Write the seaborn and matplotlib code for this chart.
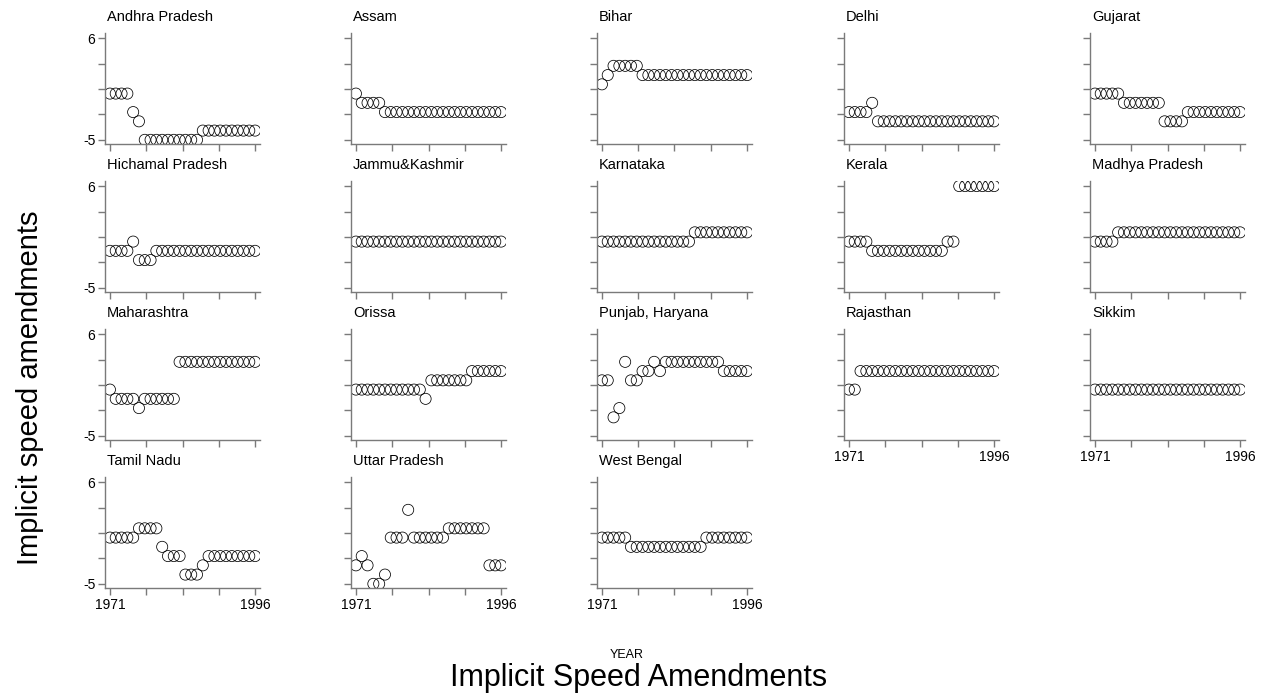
import numpy as np
import pandas as pd
import matplotlib
matplotlib.use("Agg")
import matplotlib.pyplot as plt
import seaborn as sns

sns.set_theme(style="white")
plt.rcParams['font.family'] = ['Liberation Sans', 'DejaVu Sans']
plt.rcParams['text.color'] = 'black'

years = list(range(1971, 1997))

states = ["Andhra Pradesh", "Assam", "Bihar", "Delhi", "Gujarat",
          "Hichamal Pradesh", "Jammu&Kashmir", "Karnataka", "Kerala", "Madhya Pradesh",
          "Maharashtra", "Orissa", "Punjab, Haryana", "Rajasthan", "Sikkim",
          "Tamil Nadu", "Uttar Pradesh", "West Bengal"]

andhra_pradesh = [0, 0, 0, 0, -2, -3] + [-5] * 10 + [-4] * 10
assam = [0] + [-1] * 4 + [-2] * 21
bihar = [1, 2] + [3] * 5 + [2] * 19
delhi = [-2] * 4 + [-1] + [-3] * 21
gujarat = [0] * 5 + [-1] * 7 + [-3] * 4 + [-2] * 10
hichamal_pradesh = [-1] * 4 + [0] + [-2] * 3 + [-1] * 18
jammu_kashmir = [0] * 26
karnataka = [0] * 16 + [1] * 10
kerala = [0] * 4 + [-1] * 13 + [0] * 2 + [6] * 7
madhya_pradesh = [0] * 4 + [1] * 22
maharashtra = [0] + [-1] * 4 + [-2] + [-1] * 6 + [3] * 14
orissa = [0] * 12 + [-1] + [1] * 7 + [2] * 6
punjab_haryana = [1, 1, -3, -2, 3, 1, 1, 2, 2, 3, 2] + [3] * 10 + [2] * 5
rajasthan = [0, 0] + [2] * 24
sikkim = [0] * 26
tamil_nadu = [0] * 5 + [1] * 4 + [-1] + [-2] * 3 + [-4] * 3 + [-3] + [-2] * 9
uttar_pradesh = [-3, -2, -3, -5, -5, -4, 0, 0, 0, 3] + [0] * 6 + [1] * 7 + [-3] * 3
west_bengal = [0] * 5 + [-1] * 13 + [0] * 8

series = [andhra_pradesh, assam, bihar, delhi, gujarat,
          hichamal_pradesh, jammu_kashmir, karnataka, kerala, madhya_pradesh,
          maharashtra, orissa, punjab_haryana, rajasthan, sikkim,
          tamil_nadu, uttar_pradesh, west_bengal]

y_tick_labels = {6: "6", -5: "-5"}
x_tick_labels = {1971: "1971", 1996: "1996"}

W, H = 1264, 693
fig = plt.figure(figsize=(W / 100, H / 100), dpi=100)

col_left = [105, 351, 597, 844, 1090]
row_top = [33, 181, 329, 477]
aw, ah = 155, 111
axis_color = "#7a7a7a"

xticks = np.linspace(1971, 1996, 5)
yticks = np.linspace(-5, 6, 5)

for i, (name, vals) in enumerate(zip(states, series)):
    r, c = divmod(i, 5)
    left = col_left[c]
    top = row_top[r]
    ax = fig.add_axes([left / W, 1 - (top + ah) / H, aw / W, ah / H])
    df = pd.DataFrame({"year": years, "value": vals})
    sns.scatterplot(data=df, x="year", y="value", ax=ax, marker="o", s=64,
                    facecolors="none", edgecolors="black", linewidths=0.55,
                    legend=False)
    ax.set_xlim(1970.15, 1996.85)
    ax.set_ylim(-5.45, 6.55)
    ax.set_xlabel("")
    ax.set_ylabel("")
    for s in ["top", "right"]:
        ax.spines[s].set_visible(False)
    for s in ["left", "bottom"]:
        ax.spines[s].set_color(axis_color)
        ax.spines[s].set_linewidth(1.0)
    ax.set_xticks(xticks)
    ax.set_yticks(yticks)
    ax.tick_params(axis="both", direction="out", length=5, width=1,
                   color=axis_color, labelsize=10, pad=2, labelcolor="black")
    ax.tick_params(left=True, bottom=True)
    bottom_panel = (r == 3) or (r == 2 and c >= 3)
    if bottom_panel:
        ax.set_xticklabels([x_tick_labels.get(int(round(t)), "") if abs(t - round(t)) < 1e-6 else "" for t in xticks])
    else:
        ax.set_xticklabels([])
    if c == 0:
        ax.set_yticklabels([y_tick_labels.get(int(round(t)), "") if abs(t - round(t)) < 1e-6 else "" for t in yticks])
    else:
        ax.set_yticklabels([])
    fig.text((left + 2) / W, 1 - (top - 16) / H, name, fontsize=10.5,
             ha="left", va="center", color="black")

fig.text(30 / W, 1 - 388 / H, "Implicit speed amendments", rotation=90,
         fontsize=21, ha="center", va="center", color="black")
fig.text(627 / W, 1 - 655 / H, "YEAR", fontsize=9, ha="center", va="center",
         color="black")
fig.text(639 / W, 1 - 678 / H, "Implicit Speed Amendments", fontsize=22,
         ha="center", va="center", color="black")

fig.savefig("out.png", dpi=100, facecolor="white")
